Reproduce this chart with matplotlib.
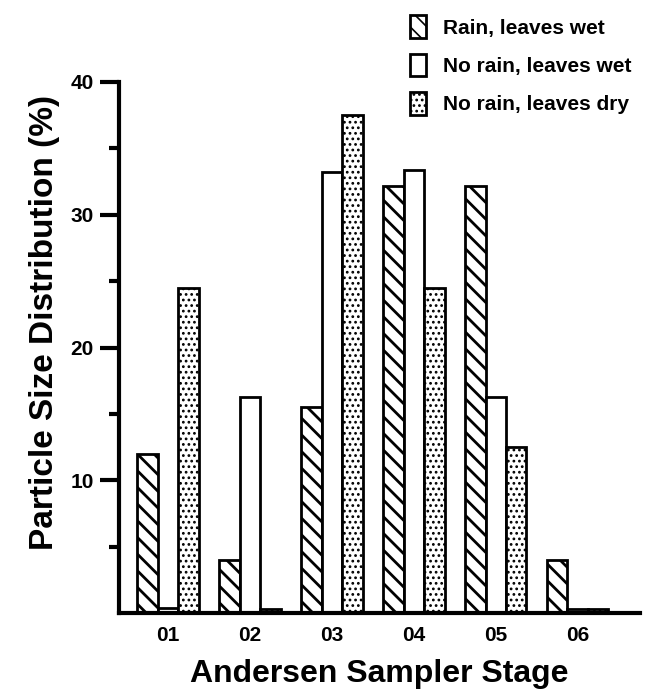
import numpy as np
import matplotlib
matplotlib.use('Agg')
from matplotlib import pyplot as plt
from matplotlib.patches import Patch

plt.rcParams['font.family'] = ['Liberation Sans', 'DejaVu Sans']
plt.rcParams['font.weight'] = 'bold'

# data
stages = ['01', '02', '03', '04', '05', '06']
rain_wet = [12.0, 4.0, 15.5, 32.2, 32.2, 4.0]
norain_wet = [0.4, 16.3, 33.2, 33.4, 16.3, 0.3]
norain_dry = [24.5, 0.3, 37.5, 24.5, 12.5, 0.3]
labels = ['Rain, leaves wet', 'No rain, leaves wet', 'No rain, leaves dry']

fig = plt.figure(figsize=(6.57, 6.89), dpi=100)
ax = fig.add_axes((0.181, 0.110, 0.793, 0.771))

x = np.arange(1, len(stages) + 1)
w = 0.25
plt.rcParams['hatch.linewidth'] = 2.0
ax.bar(x - w, rain_wet, width=w, facecolor='white', edgecolor='black',
       linewidth=2, hatch='\\\\')
h_rain = Patch(facecolor='white', edgecolor='black', linewidth=2, hatch='\\\\')
ax.bar(x, norain_wet, width=w, facecolor='white', edgecolor='black',
       linewidth=2)
h_wet = Patch(facecolor='white', edgecolor='black', linewidth=2)
plt.rcParams['hatch.linewidth'] = 1.2
ax.bar(x + w, norain_dry, width=w, facecolor='white', edgecolor='black',
       linewidth=2, hatch='...')
h_dry = Patch(facecolor='white', edgecolor='black', linewidth=2, hatch='...')

ax.set_xlim(0.40, 6.76)
ax.set_ylim(0, 40)
ax.set_xticks(x)
ax.set_xticklabels(stages, fontsize=15, fontweight='bold')
ax.tick_params(axis='x', length=0, pad=9)
ax.set_yticks([10, 20, 30, 40])
ax.set_yticklabels(['10', '20', '30', '40'], fontsize=15, fontweight='bold')
ax.set_yticks([5, 15, 25, 35], minor=True)
ax.tick_params(axis='y', which='major', length=14, width=3, pad=4)
ax.tick_params(axis='y', which='minor', length=7, width=3)
for s in ['top', 'right']:
    ax.spines[s].set_visible(False)
for s in ['left', 'bottom']:
    ax.spines[s].set_linewidth(3)

ax.set_xlabel('Andersen Sampler Stage', fontsize=23, fontweight='bold', labelpad=10)
ax.set_ylabel('Particle Size Distribution (%)', fontsize=24, fontweight='bold')
ax.yaxis.set_label_coords(-0.113, 0.548)

fig.legend([h_rain, h_wet, h_dry], labels, loc='upper left', bbox_to_anchor=(0.595, 1.005),
           frameon=False, handlelength=0.8, handleheight=1.3,
           labelspacing=0.75, handletextpad=0.8, prop={'weight': 'bold', 'size': 15})

fig.savefig('out.png', dpi=100)
